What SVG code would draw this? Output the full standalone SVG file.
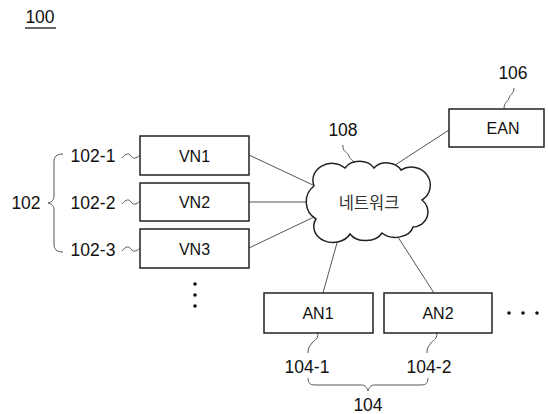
<svg xmlns="http://www.w3.org/2000/svg" width="548" height="414" viewBox="0 0 548 414">
<style>
.bg{fill:#fff}
.box{fill:#fff;stroke:#222;stroke-width:1.5}
.conn{fill:none;stroke:#555;stroke-width:1}
.ref{fill:none;stroke:#555;stroke-width:1}
.t{font-family:"Liberation Sans",Arial,sans-serif;fill:#111;text-anchor:middle;dominant-baseline:central}
.lbl{font-size:17.5px}
.nd{font-size:16px}
.kr{font-family:"Noto Sans CJK KR","Noto Sans",sans-serif;font-size:16.5px;fill:#333;text-anchor:middle;dominant-baseline:central}
.dot{fill:#111}
</style>
<rect class="bg" x="0" y="0" width="548" height="414"/>
<g id="title">
<text class="t lbl" x="40" y="17">100</text>
<line x1="25" y1="28" x2="56" y2="28" stroke="#333" stroke-width="1.5"/>
</g>
<g id="connectors">
<line class="conn" x1="249" y1="155" x2="315" y2="186"/>
<line class="conn" x1="249" y1="202" x2="307" y2="202"/>
<line class="conn" x1="249" y1="248" x2="314" y2="217"/>
<line class="conn" x1="449" y1="130" x2="392" y2="167"/>
<line class="conn" x1="340" y1="232" x2="323" y2="293"/>
<line class="conn" x1="396" y1="234" x2="434" y2="293"/>
</g>
<g id="refs">
<path class="ref" d="M122,158 C126,153 129,153 131,156 S136,159 140,155"/>
<path class="ref" d="M122,204 C126,199 129,199 131,202 S136,205 140,201"/>
<path class="ref" d="M122,251 C126,246 129,246 131,249 S136,252 140,248"/>
<path class="ref" d="M63,154 C56,154 54,157 54,162 L54,196 C54,200 52,202 48,203 C52,204 54,206 54,210 L54,244 C54,249 56,252 63,252"/>
<path class="ref" d="M343,145 C342,152 348,152 349,156 S354,160 355,165"/>
<path class="ref" d="M504,109 C504,102 508,102 509,98 S514,94 514,88"/>
<path class="ref" d="M318,333 C318,340 314,340 312,343 S308,347 308,353"/>
<path class="ref" d="M437,333 C437,340 433,340 431,343 S427,347 427,353"/>
<path class="ref" d="M308,378 C308,383 310,385 315,385 L361,385 C365,385 367,387 368,391 C369,387 371,385 375,385 L421,385 C426,385 428,383 428,378"/>
</g>
<g id="vn1">
<rect class="box" x="140" y="136" width="109" height="39"/>
<text class="t nd" x="194.5" y="156">VN1</text>
<text class="t lbl" x="93" y="156">102-1</text>
</g>
<g id="vn2">
<rect class="box" x="140" y="183" width="109" height="38"/>
<text class="t nd" x="194.5" y="202">VN2</text>
<text class="t lbl" x="93" y="203">102-2</text>
</g>
<g id="vn3">
<rect class="box" x="140" y="229" width="109" height="39"/>
<text class="t nd" x="194.5" y="249">VN3</text>
<text class="t lbl" x="93" y="250">102-3</text>
</g>
<g id="vn-group">
<text class="t lbl" x="26" y="203">102</text>
<circle class="dot" cx="195" cy="284" r="1.8"/>
<circle class="dot" cx="195" cy="295" r="1.8"/>
<circle class="dot" cx="195" cy="306" r="1.8"/>
</g>
<g id="network">
<path class="box" d="M314,186 A19 17 0 0 1 345,168 A17 14 0 0 1 374,168 A16 13 0 0 1 401,170 A19 18 0 0 1 422,200 A15 15 0 0 1 413,227 A18 13 0 0 1 382,233 A18 13 0 0 1 350,234 A18 15 0 0 1 316,219 A20 20 0 0 1 314,186 Z"/>
<text class="kr" x="369" y="202">네트워크</text>
<text class="t lbl" x="343" y="130">108</text>
</g>
<g id="ean">
<rect class="box" x="449" y="109" width="95" height="38"/>
<text class="t nd" x="503" y="128">EAN</text>
<text class="t lbl" x="513" y="73">106</text>
</g>
<g id="an1">
<rect class="box" x="264" y="293" width="109" height="40"/>
<text class="t nd" x="318" y="313">AN1</text>
<text class="t lbl" x="307" y="367">104-1</text>
</g>
<g id="an2">
<rect class="box" x="384" y="293" width="108" height="40"/>
<text class="t nd" x="438" y="313">AN2</text>
<text class="t lbl" x="429" y="367">104-2</text>
</g>
<g id="an-group">
<text class="t lbl" x="368" y="405">104</text>
<circle class="dot" cx="509" cy="313" r="1.8"/>
<circle class="dot" cx="523" cy="313" r="1.8"/>
<circle class="dot" cx="537" cy="313" r="1.8"/>
</g>
</svg>
